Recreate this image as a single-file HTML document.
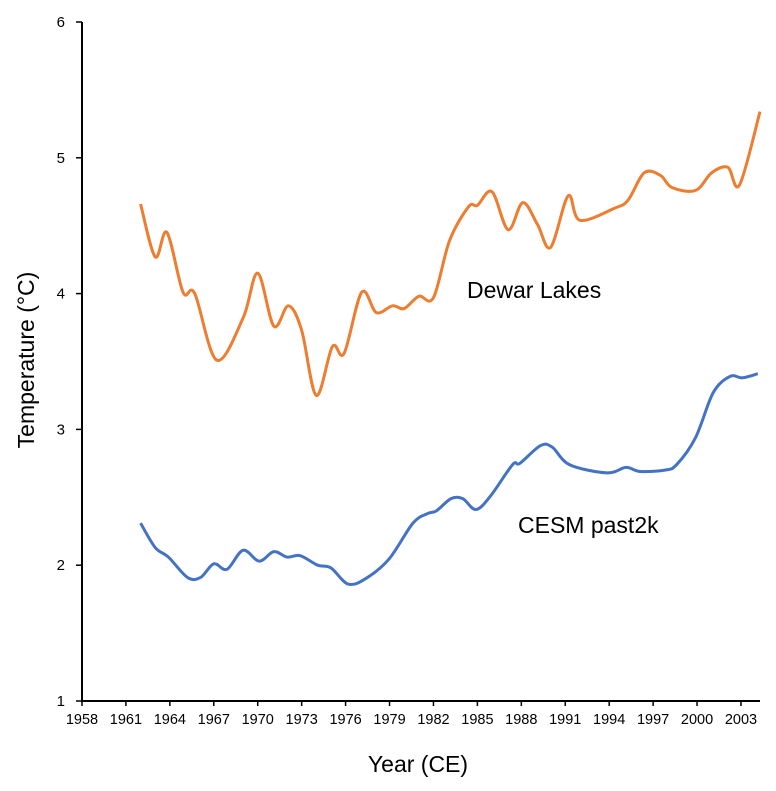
<!DOCTYPE html>
<html><head><meta charset="utf-8"><style>
body{margin:0;background:#fff;}
svg{display:block;font-family:"Liberation Sans",Arial,sans-serif;}
</style></head><body>
<svg id="chart" width="776" height="791">
<g id="axes"></g><g id="series"></g>
<text x="467" y="298" font-size="23" fill="#000">Dewar Lakes</text>
<text x="518" y="533" font-size="23" fill="#000">CESM past2k</text>
<text x="418" y="772" font-size="23" text-anchor="middle">Year (CE)</text>
<text transform="translate(34,360) rotate(-90)" font-size="23" text-anchor="middle">Temperature (°C)</text>
</svg>
<script>
const xTicks=[1958,1961,1964,1967,1970,1973,1976,1979,1982,1985,1988,1991,1994,1997,2000,2003];
const yTicks=[1,2,3,4,5,6];
const dewarYears=[1962,1963,1963.8,1964.9,1965.7,1967.2,1969,1970,1971.1,1972.1,1973,1974,1975.1,1975.9,1977.1,1978.1,1979.2,1980,1981,1982,1983.1,1984.4,1985,1986,1987.1,1988.1,1989.1,1990,1991.2,1992,1994.4,1995.3,1996.4,1997.5,1998.3,1999.9,2001,2002.1,2002.9,2004.3];
const dewarValues=[4.66,4.27,4.45,4.01,4.0,3.51,3.82,4.15,3.76,3.91,3.73,3.25,3.61,3.56,4.01,3.86,3.91,3.89,3.98,3.97,4.39,4.64,4.65,4.75,4.47,4.67,4.51,4.34,4.72,4.54,4.63,4.69,4.89,4.87,4.78,4.76,4.89,4.93,4.8,5.34];
const cesmYears=[1962,1963,1963.9,1965.2,1966.1,1967,1967.9,1969,1970.1,1971.1,1972,1972.9,1974.1,1975,1976.2,1977.5,1979,1980.6,1981.6,1982.2,1983.2,1984,1984.9,1985.9,1987.4,1987.9,1989.3,1990.1,1991.3,1993.85,1995.15,1996.1,1997.8,1998.6,1999.9,2001.1,2002.25,2003.1,2004.15];
const cesmValues=[2.31,2.13,2.06,1.91,1.91,2.01,1.97,2.11,2.03,2.1,2.06,2.07,2.0,1.98,1.86,1.91,2.05,2.31,2.38,2.4,2.49,2.49,2.41,2.51,2.74,2.75,2.88,2.87,2.74,2.68,2.72,2.69,2.7,2.74,2.94,3.27,3.39,3.38,3.41];

const NS='http://www.w3.org/2000/svg';
const X=y=>82+(y-1958)*14.644;
const Y=v=>701-(v-1)*135.8;
const axes=document.getElementById('axes'),ser=document.getElementById('series');
function mk(tag,attrs,parent){const e=document.createElementNS(NS,tag);for(const k in attrs)e.setAttribute(k,attrs[k]);parent.appendChild(e);return e;}
let l=mk('line',{x1:82,y1:Y(6),x2:82,y2:701,stroke:'#000','stroke-width':2},axes);


l=mk('line',{x1:81,y1:701,x2:760,y2:701,stroke:'#000','stroke-width':2},axes);


xTicks.forEach(t=>{
  const tk=mk('line',{x1:X(t),y1:701,x2:X(t),y2:706,stroke:'#000','stroke-width':1.5},axes);
  
  
  const tx=mk('text',{x:X(t),y:724,'font-size':14.5,'text-anchor':'middle'},axes);tx.textContent=t;
  
  
});
yTicks.forEach(t=>{
  const tk=mk('line',{x1:76,y1:Y(t),x2:82,y2:Y(t),stroke:'#000','stroke-width':1.5},axes);
  
  
  const tx=mk('text',{x:65,y:Y(t)+5,'font-size':15,'text-anchor':'end'},axes);tx.textContent=t;
  
  
});
function smooth(xs,vs){
  const p=xs.map((x,i)=>[X(x),Y(vs[i])]);
  let d='M'+p[0][0]+','+p[0][1];
  for(let i=0;i<p.length-1;i++){
    const p0=p[Math.max(0,i-1)],p1=p[i],p2=p[i+1],p3=p[Math.min(p.length-1,i+2)];
    const c1=[p1[0]+(p2[0]-p0[0])/6,p1[1]+(p2[1]-p0[1])/6];
    const c2=[p2[0]-(p3[0]-p1[0])/6,p2[1]-(p3[1]-p1[1])/6];
    d+=` C${c1[0]},${c1[1]} ${c2[0]},${c2[1]} ${p2[0]},${p2[1]}`;
  }
  return d;
}
let s=mk('path',{d:smooth(dewarYears,dewarValues),fill:'none',stroke:'#ED7D31','stroke-width':3,'stroke-linejoin':'round'},ser);


s=mk('path',{d:smooth(cesmYears,cesmValues),fill:'none',stroke:'#4472C4','stroke-width':3,'stroke-linejoin':'round'},ser);


</script>
</body></html>
